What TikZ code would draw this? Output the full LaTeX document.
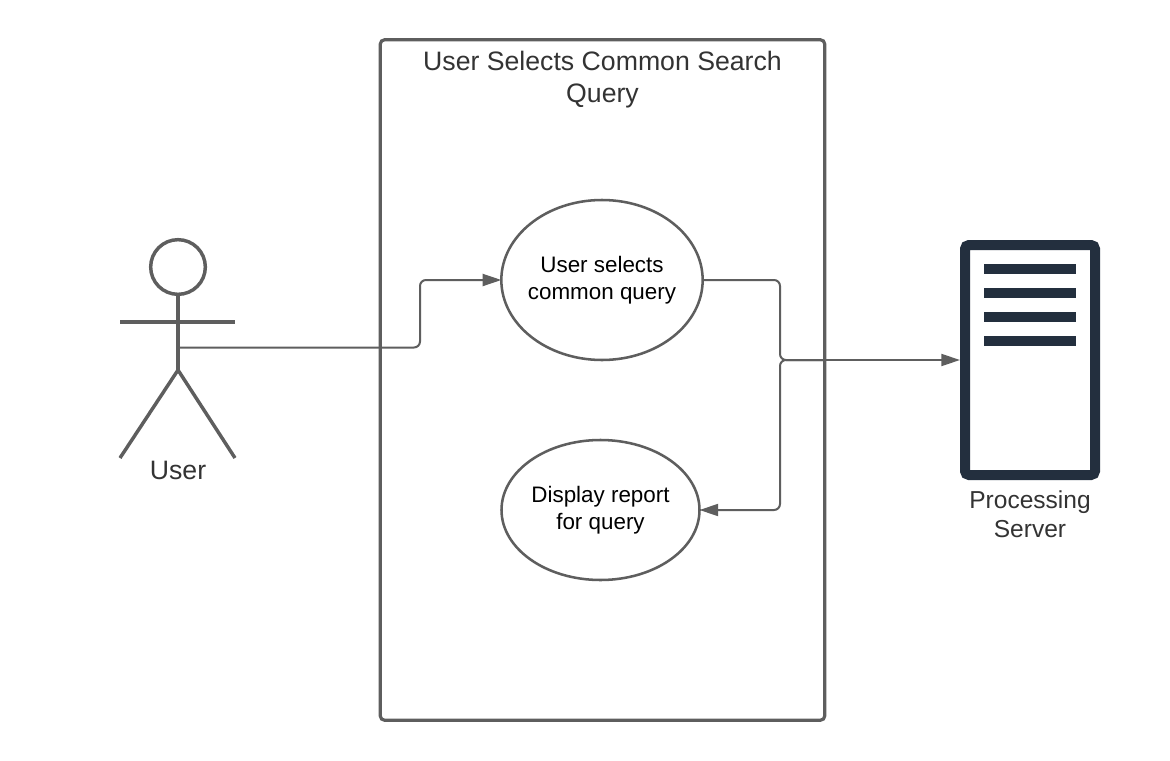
\documentclass[tikz,border=0pt]{standalone}
\usepackage{fontspec}
\setmainfont{Liberation Sans}
\usetikzlibrary{shapes.geometric,arrows.meta}
\definecolor{linegrey}{RGB}{94,94,94}
\definecolor{textgrey}{RGB}{51,51,51}
\definecolor{servernavy}{RGB}{35,47,62}
\tikzset{every picture/.style={line width=0.75pt}}
\tikzset{
    usecase/.style={draw=linegrey,fill=white,ellipse,line width=1.9pt,inner xsep=-4pt,inner ysep=0pt,outer sep=0pt,align=center,text=black,font=\fontsize{16.8}{20}\selectfont},
    flow/.style={draw=linegrey,line width=1.5pt,rounded corners=4.5pt},
    flowtip/.style={-{Triangle[length=14pt,width=9pt]}},
    stickman/.style={draw=linegrey,line width=2.6pt},
    bigtext/.style={text=textgrey,align=center,inner sep=0.75pt,font=\fontsize{20}{24}\selectfont},
    midtext/.style={text=textgrey,align=center,inner sep=0.75pt,font=\fontsize{18.4}{21.8}\selectfont},
    serverbar/.style={fill=servernavy,minimum width=69pt,minimum height=7.5pt,inner sep=0pt}
}
\begin{document}
\begin{tikzpicture}[x=0.75pt,y=0.75pt,yscale=-1,xscale=1]
        \useasboundingbox (0,0) rectangle (1170,760);

        % System box
        \node (systembox) [draw=linegrey,fill=white,line width=2.4pt,rounded corners=3.5pt,minimum width=333.5pt,minimum height=510.5pt,inner sep=0pt] at (602.5,380) {};
        \node (systemtitle) [bigtext] at (602.5,80) {User Selects Common Search\\Query};

        % Actor
        \node (head) [circle,draw=linegrey,line width=2.6pt,minimum size=41pt,inner sep=0pt] at (178,267) {};
        \coordinate (hip) at (178,370);
        \coordinate (armleft) at (120,322);
        \coordinate (armright) at (235,322);
        \coordinate (footleft) at (120,458);
        \coordinate (footright) at (235,458);
        \coordinate (userport) at (178,347.5);
        \draw [stickman] (head.south) -- (hip);
        \draw [stickman] (armleft) -- (armright);
        \draw [stickman] (footleft) -- (hip) -- (footright);
        \node (userlabel) [midtext,font=\fontsize{20}{24}\selectfont] at (178,470) {User};

        % Use cases
        \node (selectquery) [usecase,minimum width=151pt,minimum height=120pt] at (602,280) {User selects\\common query};
        \node (showreport) [usecase,minimum width=148.5pt,minimum height=105pt] at (600.5,510) {Display report\\for query};

        % Server
        \node (server) [draw=servernavy,fill=white,line width=7.5pt,rounded corners=3pt,outer sep=0pt,minimum width=97.5pt,minimum height=172.5pt,inner sep=0pt] at (1030,360) {};
        \node (bara) [serverbar] at (1030,269) {};
        \node (barb) [serverbar] at (1030,293) {};
        \node (barc) [serverbar] at (1030,317) {};
        \node (bard) [serverbar] at (1030,341) {};
        \node (serverlabel) [midtext] at (1030,514.5) {Processing\\Server};

        % Connectors
        \coordinate (junction) at (780,360);
        \coordinate (serverport) at (960,360);
        \draw [flow,flowtip] (userport) -- (420,347.5) -- (420,280) -- (selectquery.west);
        \draw [flow] (selectquery.east) -- (780,280) -- (junction) -- (825,360);
        \draw [flow,flowtip,rounded corners=0pt] (825,360) -- (serverport);
        \draw [flow,flowtip] (825,360) -- (junction) -- (780,510) -- (showreport.east);
\end{tikzpicture}
\end{document}
